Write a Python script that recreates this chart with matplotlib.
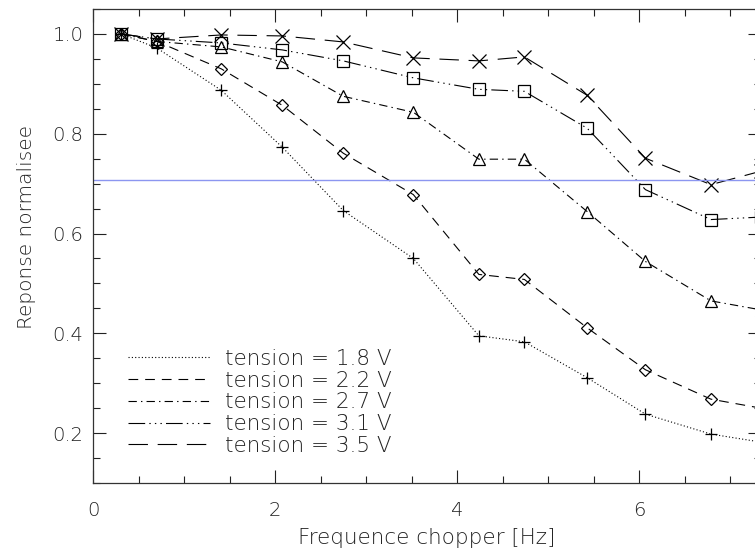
import numpy as np
import matplotlib
matplotlib.use("Agg")
import matplotlib.pyplot as plt
from matplotlib.ticker import MultipleLocator, FormatStrFormatter

plt.rcParams['font.family'] = ['DejaVu Sans']
plt.rcParams['font.weight'] = 'light'
plt.rcParams['axes.labelweight'] = 'light'
plt.rcParams['lines.scale_dashes'] = False

# chopper frequencies [Hz]
freq = [0.31, 0.70, 1.41, 2.08, 2.75, 3.52, 4.24, 4.74, 5.43, 6.07, 6.79, 7.34]

# normalised response for each bias voltage
resp_18 = [1.000, 0.972, 0.887, 0.773, 0.646, 0.550, 0.395, 0.383, 0.311, 0.238, 0.198, 0.182]
resp_22 = [1.000, 0.985, 0.930, 0.857, 0.761, 0.678, 0.518, 0.508, 0.411, 0.327, 0.268, 0.250]
resp_27 = [1.000, 0.985, 0.974, 0.944, 0.875, 0.843, 0.749, 0.749, 0.644, 0.544, 0.465, 0.447]
resp_31 = [1.000, 0.990, 0.982, 0.968, 0.946, 0.912, 0.889, 0.885, 0.811, 0.688, 0.628, 0.633]
resp_35 = [1.000, 0.990, 0.998, 0.996, 0.984, 0.952, 0.946, 0.954, 0.877, 0.751, 0.698, 0.725]

labels = ['tension = 1.8 V', 'tension = 2.2 V', 'tension = 2.7 V',
          'tension = 3.1 V', 'tension = 3.5 V']
cutoff = 1 / np.sqrt(2)

series = [resp_18, resp_22, resp_27, resp_31, resp_35]
markers = ['+', 'D', '^', 's', 'x']
msizes = [9, 6.5, 9, 8, 10]
dashes = [(0, (0.8, 1.6)),
          (0, (7, 5)),
          (0, (6, 3, 1, 3)),
          (0, (12, 3, 1, 3, 1, 3, 1, 3)),
          (0, (14, 7))]

fig = plt.figure(figsize=(7.55, 5.54), dpi=100)
# axes runs slightly past the right border, as in the cropped original
ax = fig.add_axes([93 / 755, 71 / 554, 668 / 755, 474 / 554])

for y, mk, ms, ls, lab in zip(series, markers, msizes, dashes, labels):
    ax.plot(freq, y, color='black', lw=0.8, linestyle=ls, marker=mk,
            markersize=ms, markerfacecolor='none', markeredgecolor='black',
            markeredgewidth=0.9, label=lab)

ax.axhline(cutoff, color='#8c96f0', lw=1.0)

ax.set_xlim(0, 7.34)
ax.set_ylim(0.1, 1.05)
ax.xaxis.set_major_locator(MultipleLocator(2))
ax.xaxis.set_minor_locator(MultipleLocator(0.5))
ax.yaxis.set_major_locator(MultipleLocator(0.2))
ax.yaxis.set_minor_locator(MultipleLocator(0.05))
ax.yaxis.set_major_formatter(FormatStrFormatter('%.1f'))
ax.set_yticks([0.2, 0.4, 0.6, 0.8, 1.0])

ax.tick_params(which='both', direction='in', top=True, right=True,
               colors='#222222', labelsize=14, width=0.8)
ax.tick_params(which='major', length=9.5)
ax.tick_params(which='minor', length=5)
ax.tick_params(axis='x', pad=13)
ax.tick_params(axis='y', pad=7)
for sp in ax.spines.values():
    sp.set_linewidth(0.9)
    sp.set_color('#333333')

ax.set_xlabel('Frequence chopper [Hz]', fontsize=15.5, color='#222222', labelpad=6)
ax.set_ylabel('Reponse normalisee', fontsize=14.5, color='#222222')
ax.yaxis.set_label_coords(-0.085, 0.54)

leg = ax.legend(loc='lower left', bbox_to_anchor=(0.04, 0.039), frameon=False,
                fontsize=15.5, handlelength=3.8, handletextpad=0.7,
                labelspacing=0.08, borderaxespad=0, markerscale=0)
for h in leg.get_lines():
    h.set_marker('')
for t in leg.get_texts():
    t.set_color('#222222')

plt.savefig('out.png', dpi=100)
